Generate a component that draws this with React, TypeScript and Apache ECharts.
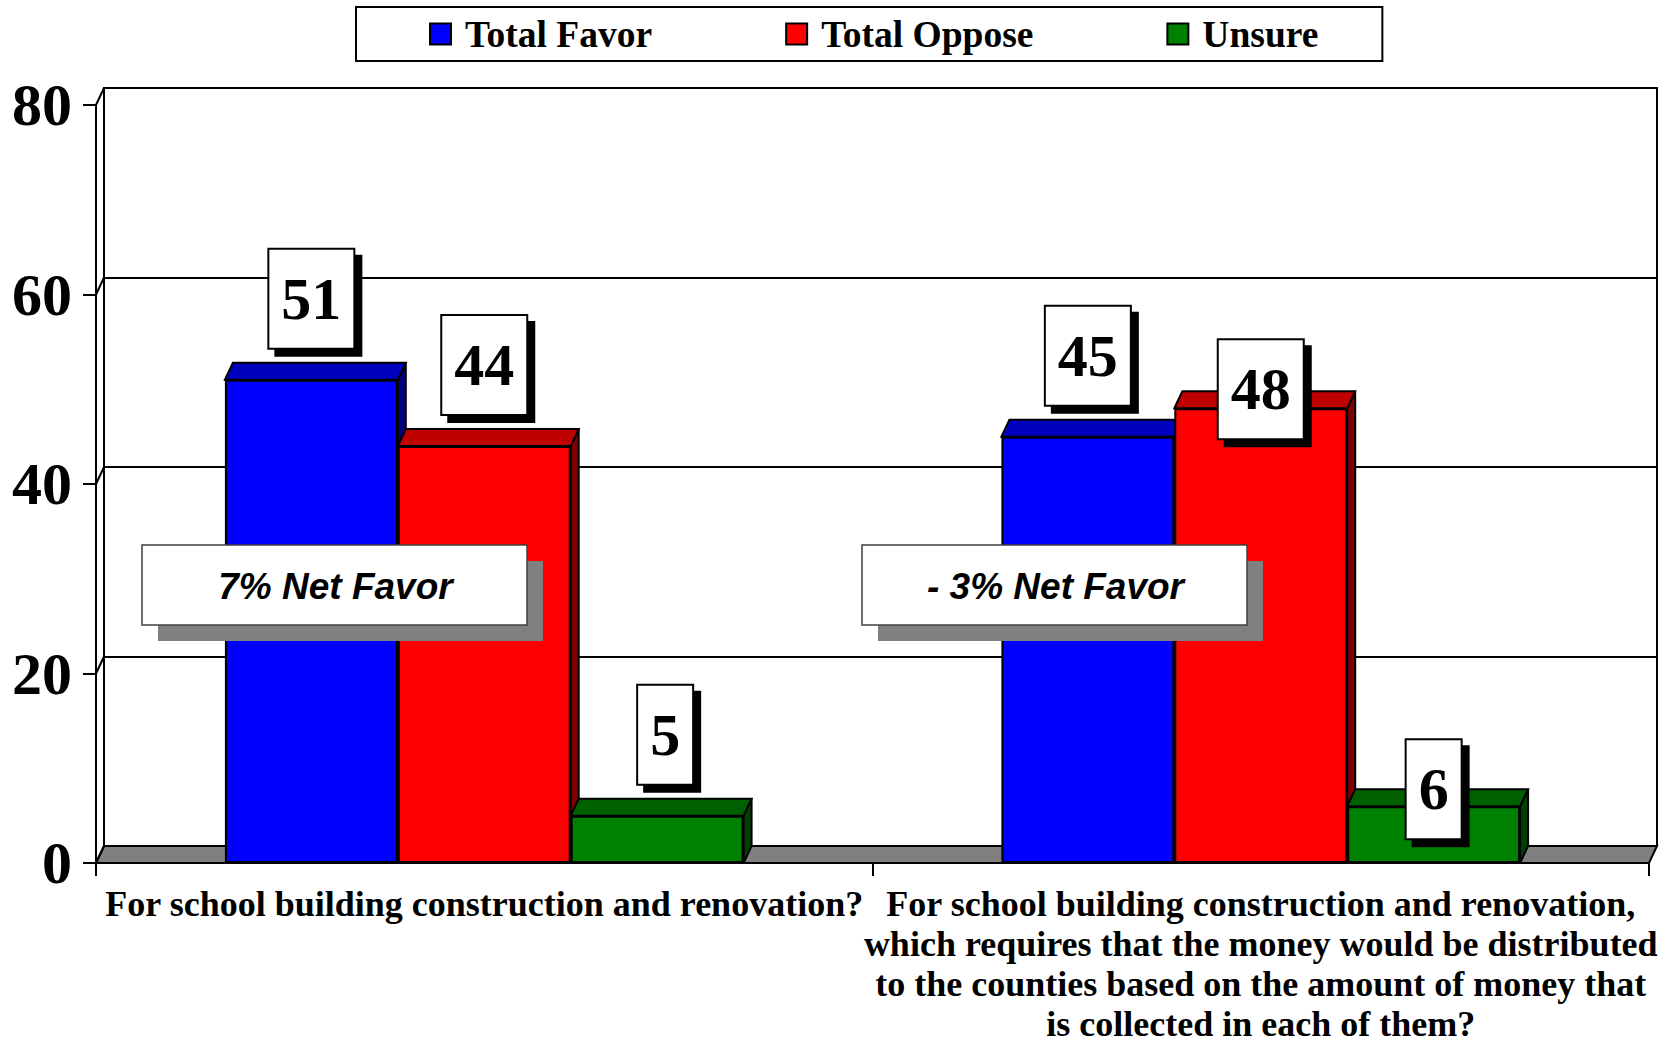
import React, { useEffect, useRef } from 'react';
import * as echarts from 'echarts';

// ---------- data ----------
const categories = [
  'For school building construction and renovation?',
  'For school building construction and renovation,\nwhich requires that the money would be distributed\nto the counties based on the amount of money that\nis collected in each of them?',
];
const seriesNames = ['Total Favor', 'Total Oppose', 'Unsure'];
const totalFavor = [51, 45];
const totalOppose = [44, 48];
const unsure = [5, 6];
const yTicks = [0, 20, 40, 60, 80];
const netFavorNotes = ['7% Net Favor', '- 3% Net Favor'];

// ---------- styling / layout ----------
const frontColors = ['#0000FF', '#FF0000', '#008000'];
const topColors = ['#0000BF', '#BF0000', '#006000'];
const sideColors = ['#000080', '#800000', '#004000'];
const labelNudges = [
  [[0, 0], [0, 0]],
  [[0, 0], [0, 62]],
  [[8, 0], [0, 64]],
];
const GRID = { left: 96, top: 105, width: 1553, height: 758 };
const DX = 8;
const DY = -17;
const GAP = 0.332;
const SERIF = '"Liberation Serif", "Times New Roman", serif';
const SANS = '"Liberation Sans", Arial, sans-serif';
const noteBoxes = [
  { x: 142, y: 545, w: 385, h: 80 },
  { x: 862, y: 545, w: 385, h: 80 },
];

export default function App() {
  const ref = useRef<HTMLDivElement>(null);

  useEffect(() => {
    if (!ref.current) return;
    const chart = echarts.init(ref.current, undefined, { renderer: 'svg' });
    const allValues = [totalFavor, totalOppose, unsure];

    const barSeries = allValues.map((vals, si) => ({
      name: seriesNames[si],
      type: 'bar',
      xAxisIndex: 0,
      yAxisIndex: 0,
      z: 3,
      barCategoryGap: GAP * 100 + '%',
      barGap: '0%',
      itemStyle: { color: frontColors[si], borderColor: '#000', borderWidth: 2 },
      emphasis: { disabled: true },
      label: {
        show: true,
        position: 'top',
        distance: 32,
        formatter: '{c}',
        fontFamily: SERIF,
        fontWeight: 'bold',
        fontSize: 60,
        lineHeight: 60,
        color: '#000',
        backgroundColor: '#fff',
        borderColor: '#000',
        borderWidth: 2,
        padding: [19, 12],
        shadowColor: '#000',
        shadowOffsetX: 7,
        shadowOffsetY: 7,
        shadowBlur: 0,
      },
      data: vals.map((v, ci) => ({ value: v, label: { offset: labelNudges[si][ci] } })),
    }));

    const depthSeries = allValues.map((vals, si) => ({
      type: 'custom',
      xAxisIndex: 0,
      yAxisIndex: 0,
      z: 2,
      silent: true,
      data: vals.map((v, ci) => [ci, v]),
      encode: { x: 0, y: 1 },
      renderItem: (params: any, api: any) => {
        const ci = api.value(0);
        const v = api.value(1);
        const top = api.coord([ci, v]);
        const base = api.coord([ci, 0]);
        const band = api.size([1, 0])[0];
        const bw = (band * (1 - GAP)) / 3;
        const x0 = top[0] - 1.5 * bw + si * bw;
        const x1 = x0 + bw;
        const yT = top[1];
        const yB = base[1];
        return {
          type: 'group',
          children: [
            {
              type: 'polygon',
              shape: { points: [[x1, yT], [x1 + DX, yT + DY], [x1 + DX, yB + DY], [x1, yB]] },
              style: { fill: sideColors[si], stroke: '#000', lineWidth: 2 },
            },
            {
              type: 'polygon',
              shape: { points: [[x0, yT], [x1, yT], [x1 + DX, yT + DY], [x0 + DX, yT + DY]] },
              style: { fill: topColors[si], stroke: '#000', lineWidth: 2 },
            },
          ],
        };
      },
    }));

    const option: any = {
      animation: false,
      backgroundColor: '#fff',
      legend: {
        data: seriesNames,
        left: 356,
        top: 7,
        orient: 'horizontal',
        icon: 'rect',
        itemWidth: 21,
        itemHeight: 21,
        itemGap: 133,
        borderColor: '#000',
        borderWidth: 2,
        padding: [7, 64, 7, 73],
        selectedMode: false,
        textStyle: {
          fontFamily: SERIF,
          fontWeight: 'bold',
          fontSize: 37.5,
          lineHeight: 40,
          color: '#000',
          padding: [0, 0, 0, 9],
        },
      },
      grid: [
        { ...GRID, outerBoundsMode: 'none', containLabel: false },
        {
          left: GRID.left + DX,
          top: GRID.top + DY,
          width: GRID.width,
          height: GRID.height,
          show: true,
          borderColor: '#000',
          borderWidth: 2,
          backgroundColor: 'transparent',
          outerBoundsMode: 'none',
          containLabel: false,
        },
      ],
      xAxis: [
        {
          type: 'category',
          gridIndex: 0,
          data: categories,
          boundaryGap: true,
          axisLine: { show: true, lineStyle: { color: '#000', width: 2 } },
          axisTick: { show: true, length: 13, lineStyle: { color: '#000', width: 2 } },
          axisLabel: {
            interval: 0,
            margin: 21,
            fontFamily: SERIF,
            fontWeight: 'bold',
            fontSize: 36,
            lineHeight: 40,
            color: '#000',
          },
          splitLine: { show: false },
        },
        { type: 'value', gridIndex: 1, show: false, min: 0, max: 1 },
      ],
      yAxis: [
        {
          type: 'value',
          gridIndex: 0,
          min: 0,
          max: 80,
          interval: 20,
          axisLine: { show: true, lineStyle: { color: '#000', width: 2 } },
          axisTick: { show: true, length: 13, lineStyle: { color: '#000', width: 2 } },
          axisLabel: {
            margin: 24,
            fontFamily: SERIF,
            fontWeight: 'bold',
            fontSize: 60,
            color: '#000',
          },
          splitLine: { show: false },
        },
        {
          type: 'value',
          gridIndex: 1,
          min: 0,
          max: 80,
          interval: 20,
          axisLine: { show: false },
          axisTick: { show: false },
          axisLabel: { show: false },
          splitLine: { show: true, lineStyle: { color: '#000', width: 2 } },
        },
      ],
      series: [...depthSeries, ...barSeries],
    };

    chart.setOption(option);

    // decorations tied to the axis scale
    const tickY = yTicks.map((v) => chart.convertToPixel({ yAxisIndex: 0 }, v) as number);
    const y0 = chart.convertToPixel({ yAxisIndex: 0 }, 0) as number;
    const L = GRID.left;
    const R = GRID.left + GRID.width;
    const graphics: any[] = [
      {
        type: 'polygon',
        z: 1,
        silent: true,
        shape: { points: [[L, y0], [R, y0], [R + DX, y0 + DY], [L + DX, y0 + DY]] },
        style: { fill: '#808080', stroke: '#000', lineWidth: 2 },
      },
      ...tickY.map((y) => ({
        type: 'line',
        z: 1,
        silent: true,
        shape: { x1: L, y1: y, x2: L + DX, y2: y + DY },
        style: { stroke: '#000', lineWidth: 2 },
      })),
    ];
    noteBoxes.forEach((b, i) => {
      graphics.push(
        {
          type: 'rect',
          z: 100,
          silent: true,
          shape: { x: b.x + 16, y: b.y + 16, width: b.w, height: b.h },
          style: { fill: '#808080' },
        },
        {
          type: 'rect',
          z: 101,
          silent: true,
          shape: { x: b.x, y: b.y, width: b.w, height: b.h },
          style: { fill: '#fff', stroke: '#404040', lineWidth: 1.5 },
        },
        {
          type: 'text',
          z: 102,
          silent: true,
          style: {
            text: netFavorNotes[i],
            x: b.x + b.w / 2 + 1,
            y: b.y + b.h / 2 + 1,
            align: 'center',
            verticalAlign: 'middle',
            fontFamily: SANS,
            fontWeight: 'bold',
            fontStyle: 'italic',
            fontSize: 37,
            fill: '#000',
          },
        }
      );
    });
    chart.setOption({ graphic: graphics });

    return () => chart.dispose();
  }, []);

  return (
    <div
      ref={ref}
      style={{ position: 'fixed', left: 0, top: 0, width: 1665, height: 1044, background: '#fff' }}
    />
  );
}
